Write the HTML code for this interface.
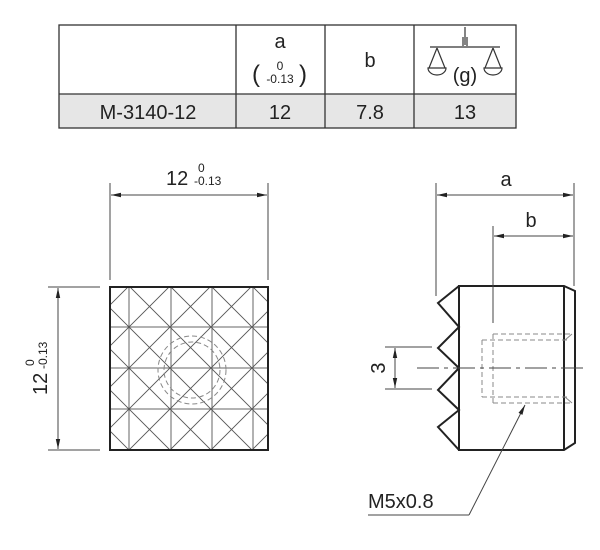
<!DOCTYPE html>
<html><head><style>
html,body{margin:0;padding:0;background:#fff;width:600px;height:550px;overflow:hidden}
svg{display:block;overflow:hidden}
text{font-family:"Liberation Sans",sans-serif;fill:#222}
</style></head><body>
<svg width="600" height="550" viewBox="0 0 600 550">
<defs>
<marker id="ar" viewBox="0 0 10 6" refX="10" refY="3" markerWidth="10" markerHeight="6" orient="auto-start-reverse" markerUnits="userSpaceOnUse"><path d="M0,0.8 L10,3 L0,5.2 Z" fill="#222"/></marker>
<clipPath id="sq"><rect x="110" y="287" width="158" height="163"/></clipPath>
</defs>
<!-- table -->
<rect x="59" y="94" width="457" height="34" fill="#e6e6e6"/>
<g stroke="#333" stroke-width="1.3" fill="none">
<rect x="59" y="25" width="457" height="103"/>
<line x1="59" y1="94" x2="516" y2="94"/>
<line x1="236" y1="25" x2="236" y2="128"/>
<line x1="325" y1="25" x2="325" y2="128"/>
<line x1="414" y1="25" x2="414" y2="128"/>
</g>
<text x="280" y="48" font-size="20" text-anchor="middle">a</text>
<text x="252" y="82" font-size="24">(</text>
<text x="299" y="82" font-size="24">)</text>
<text x="280" y="70" font-size="12" text-anchor="middle">0</text>
<text x="280" y="83" font-size="12" text-anchor="middle">-0.13</text>
<text x="370" y="67" font-size="20" text-anchor="middle">b</text>
<text x="465" y="82" font-size="20" text-anchor="middle">(g)</text>
<g stroke="#333" stroke-width="1.2" fill="none">
<line x1="430" y1="47" x2="500" y2="47"/>
<line x1="465" y1="27" x2="465" y2="45"/>
<line x1="463" y1="37" x2="463" y2="46"/><line x1="467" y1="37" x2="467" y2="46"/>
<line x1="437" y1="48" x2="429" y2="68"/><line x1="437" y1="48" x2="445" y2="68"/>
<path d="M428,68 L446,68 A9,7 0 0 1 428,68 Z"/>
<line x1="493" y1="48" x2="485" y2="68"/><line x1="493" y1="48" x2="501" y2="68"/>
<path d="M484,68 L502,68 A9,7 0 0 1 484,68 Z"/>
</g>
<text x="148" y="119" font-size="20" text-anchor="middle">M-3140-12</text>
<text x="280" y="119" font-size="20" text-anchor="middle">12</text>
<text x="370" y="119" font-size="20" text-anchor="middle">7.8</text>
<text x="465" y="119" font-size="20" text-anchor="middle">13</text>

<!-- left view -->
<g stroke="#666" stroke-width="1" clip-path="url(#sq)">
<line x1="129" y1="287" x2="129" y2="450"/><line x1="171" y1="287" x2="171" y2="450"/>
<line x1="212" y1="287" x2="212" y2="450"/><line x1="253" y1="287" x2="253" y2="450"/>
<line x1="110" y1="327" x2="268" y2="327"/><line x1="110" y1="368" x2="268" y2="368"/>
<line x1="110" y1="409" x2="268" y2="409"/>
</g>
<g stroke="#555" stroke-width="0.9" clip-path="url(#sq)">
<path d="M-237,125 L263,625 M-196,125 L304,625 M-155,125 L345,625 M-114,125 L386,625 M-73,125 L427,625 M-32,125 L468,625 M9,125 L509,625 M50,125 L550,625 M91,125 L591,625 M132,125 L632,625"/>
<path d="M-237,125 L263,625 M-196,125 L304,625 M-155,125 L345,625 M-114,125 L386,625 M-73,125 L427,625 M-32,125 L468,625 M9,125 L509,625 M50,125 L550,625 M91,125 L591,625 M132,125 L632,625" transform="translate(381,0) scale(-1,1)"/>
</g>
<rect x="110" y="287" width="158" height="163" fill="none" stroke="#222" stroke-width="2"/>
<g fill="none" stroke="#888" stroke-width="1" stroke-dasharray="5,3">
<circle cx="192" cy="370" r="34"/><circle cx="192" cy="370" r="28"/>
</g>
<g stroke="#444" stroke-width="1" fill="none">
<line x1="110" y1="183" x2="110" y2="280"/><line x1="268" y1="183" x2="268" y2="280"/>
<line x1="111" y1="195" x2="267" y2="195" marker-start="url(#ar)" marker-end="url(#ar)"/>
<line x1="48" y1="287" x2="100" y2="287"/><line x1="48" y1="450" x2="100" y2="450"/>
<line x1="58" y1="288" x2="58" y2="449" marker-start="url(#ar)" marker-end="url(#ar)"/>
</g>
<text x="166" y="185" font-size="20">12</text>
<text x="198" y="172" font-size="12">0</text>
<text x="194" y="185" font-size="12">-0.13</text>
<g transform="translate(47,370) rotate(-90)">
<text x="-25" y="0" font-size="20">12</text>
<text x="4" y="-13" font-size="12">0</text>
<text x="1" y="0" font-size="12">-0.13</text>
</g>

<!-- right view -->
<g stroke="#222" stroke-width="2" fill="none">
<path d="M459,286 L564,286 L575,291 L575,443 L564,450 L459,450 Z"/>
<line x1="564" y1="286" x2="564" y2="450"/>
<path d="M459,286 L438,303 L459,327 L438,348 L459,368 L438,390 L459,410 L438,427 L459,450"/>
</g>
<g stroke="#888" stroke-width="1" fill="none" stroke-dasharray="5,3">
<path d="M493,334 L570,334 M482,340 L570,340 M482,340 L482,397 M482,397 L570,397 M493,403 L570,403 M493,334 L493,403"/>
</g>
<g stroke="#888" stroke-width="1" fill="none">
<line x1="572" y1="334" x2="565" y2="340"/><line x1="572" y1="403" x2="565" y2="397"/>
</g>
<line x1="417" y1="368" x2="586" y2="368" stroke="#444" stroke-width="1" stroke-dasharray="22,5,4,5"/>
<g stroke="#444" stroke-width="1" fill="none">
<line x1="436" y1="183" x2="436" y2="296"/><line x1="574" y1="183" x2="574" y2="286"/>
<line x1="437" y1="195" x2="573" y2="195" marker-start="url(#ar)" marker-end="url(#ar)"/>
<line x1="493" y1="226" x2="493" y2="323"/>
<line x1="494" y1="236" x2="573" y2="236" marker-start="url(#ar)" marker-end="url(#ar)"/>
<line x1="385" y1="347" x2="432" y2="347"/><line x1="385" y1="389" x2="432" y2="389"/>
<line x1="395" y1="348" x2="395" y2="388" marker-start="url(#ar)" marker-end="url(#ar)"/>
<line x1="469" y1="515" x2="525" y2="405" marker-end="url(#ar)"/>
<line x1="368" y1="515" x2="469" y2="515"/>
</g>
<text x="506" y="186" font-size="20" text-anchor="middle">a</text>
<text x="531" y="227" font-size="20" text-anchor="middle">b</text>
<text x="0" y="0" font-size="20" text-anchor="middle" transform="translate(385,368) rotate(-90)">3</text>
<text x="368" y="508" font-size="20">M5x0.8</text>
</svg>
</body></html>
